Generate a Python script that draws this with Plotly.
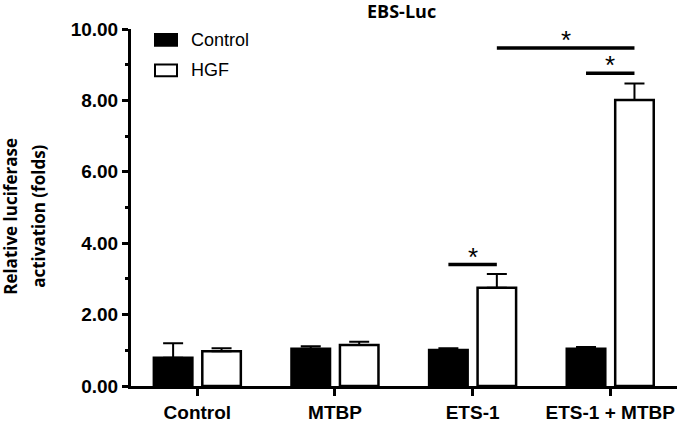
import plotly.graph_objects as go

# ---- data ----
categories = ["Control", "MTBP", "ETS-1", "ETS-1 + MTBP"]
control_mean = [0.79, 1.04, 1.01, 1.04]
control_err = [0.41, 0.07, 0.05, 0.05]
hgf_mean = [0.97, 1.15, 2.75, 8.01]
hgf_err = [0.09, 0.09, 0.39, 0.46]
series_names = ["Control", "HGF"]
y_tick_values = [0, 2, 4, 6, 8, 10]
title_text = "EBS-Luc"
y_title_lines = ["Relative luciferase", "activation (folds)"]
# significance comparisons: ((category, series), (category, series), height, label)
comparisons = [
    (("ETS-1", 0), ("ETS-1", 1), 3.40, "*"),
    (("ETS-1 + MTBP", 0), ("ETS-1 + MTBP", 1), 8.76, "*"),
    (("ETS-1", 1), ("ETS-1 + MTBP", 1), 9.47, "*"),
]

# ---- style ----
BAR_OFF = 0.176
BAR_W = 0.28
W, H = 677, 423
ML, MR, MT, MB = 131, 0, 29, 31
PW, PH = W - ML - MR, H - MT - MB
TICK_FONT = dict(family="Liberation Sans, Arial", size=19, color="black", weight="bold")


def px2paper(px, py):
    """pixel (from top-left) -> paper coords"""
    return (px - ML) / PW, (H - MB - py) / PH


fig = go.Figure()
fills = ["black", "white"]
means = [control_mean, hgf_mean]
errs = [control_err, hgf_err]
for i, name in enumerate(series_names):
    fig.add_trace(go.Bar(
        x=categories, y=means[i], name=name,
        width=BAR_W, offset=(-BAR_OFF if i == 0 else BAR_OFF) - BAR_W / 2,
        marker=dict(color=fills[i], line=dict(color="black", width=2.5)),
        error_y=dict(type="data", symmetric=False, array=errs[i],
                     arrayminus=[0] * len(errs[i]), color="black",
                     thickness=2, width=10),
        showlegend=False,
    ))


def bar_center(cat, s):
    return categories.index(cat) + (-BAR_OFF if s == 0 else BAR_OFF)


for (c0, s0), (c1, s1), yv, lab in comparisons:
    x0 = bar_center(c0, s0)
    x1 = bar_center(c1, s1)
    fig.add_shape(type="line", xref="x", yref="y", x0=x0, x1=x1, y0=yv, y1=yv,
                  line=dict(color="black", width=3.5))
    fig.add_annotation(x=(x0 + x1) / 2, y=yv, xref="x", yref="y", text=lab,
                       showarrow=False, yanchor="bottom", yshift=-9,
                       font=dict(family="Liberation Sans, Arial", size=26, color="black"))

# manual legend
leg_items = [(series_names[0], "black", 40), (series_names[1], "white", 71)]
for name, fill, cy in leg_items:
    x0, y0 = px2paper(155, cy - 6)
    x1, y1 = px2paper(177, cy + 6)
    fig.add_shape(type="rect", xref="paper", yref="paper", x0=x0, x1=x1, y0=y0, y1=y1,
                  fillcolor=fill, line=dict(color="black", width=2))
    tx, ty = px2paper(189, cy)
    fig.add_annotation(x=tx, y=ty, xref="paper", yref="paper", text=name, showarrow=False,
                       xanchor="left", yanchor="middle",
                       font=dict(family="Liberation Sans, Arial", size=18, color="black"))

# title
tx, ty = px2paper(401, 11)
fig.add_annotation(x=tx, y=ty, xref="paper", yref="paper", text="<b>%s</b>" % title_text,
                   showarrow=False, xanchor="center", yanchor="middle",
                   font=dict(family="Open Sans", size=18, color="black"))
# y title (two lines, wider line spacing than default)
for line, cx in zip(y_title_lines, [11, 39]):
    tx, ty = px2paper(cx, 220)
    fig.add_annotation(x=tx, y=ty, xref="paper", yref="paper",
                       text="<b>%s</b>" % line,
                       showarrow=False, xanchor="center", yanchor="middle", textangle=-90,
                       font=dict(family="Open Sans", size=17, color="black"))

fig.update_layout(
    width=W, height=H, margin=dict(l=ML, r=MR, t=MT, b=MB),
    plot_bgcolor="white", paper_bgcolor="white",
    barmode="overlay",
    xaxis=dict(type="category", range=[-0.482, 3.485], showline=True, linecolor="black",
               linewidth=3, ticks="outside", ticklen=7, tickwidth=3, tickcolor="black",
               showgrid=False, zeroline=False, tickfont=TICK_FONT),
    yaxis=dict(range=[0, 10], showline=True, linecolor="black", linewidth=3,
               ticks="outside", ticklen=6, tickwidth=3, tickcolor="black",
               tickvals=y_tick_values, tickformat=".2f",
               minor=dict(dtick=1, tick0=0, ticks="outside", ticklen=3.5, tickwidth=3,
                          tickcolor="black", showgrid=False),
               showgrid=False, zeroline=False, tickfont=TICK_FONT),
)

fig.write_html("out.html", config={"displayModeBar": False},
               post_script="document.body.style.margin='0';document.body.style.overflow='hidden';")
